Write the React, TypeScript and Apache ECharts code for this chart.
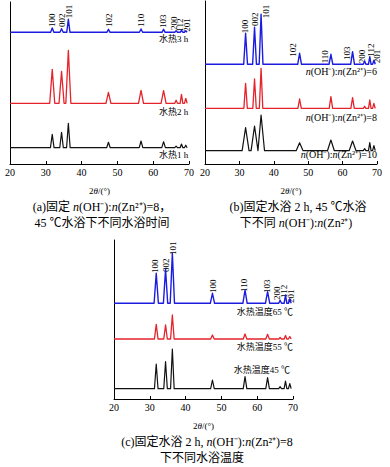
import React, { useEffect, useRef } from "react";
import * as echarts from "echarts";

const SERIF = "'Liberation Serif', 'Noto Sans CJK SC', serif";

// ZnO reflections (2θ, degrees)
const PEAK_2THETA = [31.8, 34.4, 36.3, 47.5, 56.6, 62.9, 66.4, 67.9, 69.1];

// Panel (a): intensities (a.u.) — baseline offsets and peak heights above baseline
const A_BASE = [16.3, 60.7, 131.7]; // 1 h, 2 h, 3 h
const A_1H = [13.4, 15.4, 24.4, 5.4, 6.7, 6.0, 1.5, 3.7, 2.5];
const A_2H = [34, 32, 53, 11, 13, 12.6, 3, 9, 5];
const A_3H = [4.3, 3.6, 13, 3, 3.3, 3, 1.5, 2, 1.5];
const A_CURVE_TEXT = ["水热1 h", "水热2 h", "水热3 h"];
const A_CURVE_Y = [9, 52.3, 125];
const A_HKL = ["100", "002", "101", "102", "110", "103", "200", "112", "201"];
const A_HKL_X = [31.8, 34.5, 36.5, 47.7, 56.6, 62.7, 65.8, 67.6, 69.4];
const A_HKL_Y = [137, 137, 145.7, 137, 137, 136, 134, 132.3, 132.3];

// Panel (b)
const B_BASE = [13.3, 55.7, 99.7]; // ratio 10, 8, 6
const B_10 = [23, 24.7, 35.7, 8, 10.7, 9.7, 2, 8, 5];
const B_8 = [25, 29.3, 40, 9.3, 11.7, 10.7, 2, 8.3, 5];
const B_6 = [31, 37, 50, 11, 10, 12.6, 3, 7.6, 4];
const B_RATIO = ["10", "8", "6"];
const B_CURVE_Y = [10, 46.7, 93];
const B_HKL = ["100", "002", "101", "102", "110", "103", "200", "112", "201"];
const B_HKL_X = [31.6, 34.6, 37.7, 45.5, 54.9, 61.2, 65.6, 68.2, 69.9];
const B_HKL_Y = [130.7, 138, 145.7, 107.3, 100.7, 104, 100.7, 107.3, 100.7];

// Panel (c)
const C_BASE = [10.3, 60, 95.7]; // 45, 55, 65 ℃
const C_45 = [24.7, 27, 39.7, 8.7, 12, 11, 2, 7.7, 5];
const C_55 = [14.7, 14, 24, 4, 5, 4.7, 1.5, 3.5, 2.5];
const C_65 = [30, 34, 50, 10, 13.3, 11.7, 3, 8.3, 4.5];
const C_CURVE_TEXT = ["水热温度45 ℃", "水热温度55 ℃", "水热温度65 ℃"];
const C_CURVE_X = [69.2, 70, 70];
const C_CURVE_Y = [29, 51.7, 87.3];
const C_HKL = ["100", "002", "101", "100", "110", "103", "200", "112", "201"];
const C_HKL_X = [31.5, 34.4, 36.6, 47.6, 56.3, 62.8, 65.6, 67.6, 69.4];
const C_HKL_Y = [126, 127, 144, 106, 107, 106, 99, 101, 96];

const BLACK = "#111111";
const RED = "#e5232b";
const BLUE = "#1c1ce0";

const GRIDS = [
  { left: 10, top: 2, width: 179, height: 162 },
  { left: 205, top: 1, width: 172, height: 163 },
  { left: 114, top: 240, width: 179, height: 159 },
];
const Y_MAX = [162, 163, 159];

function pattern(base: number, heights: number[], w: number) {
  const pts: number[][] = [[20, base]];
  PEAK_2THETA.forEach((p, i) => {
    const hw = i >= 6 ? Math.min(w, 0.38) : w;
    pts.push([p - hw, base], [p, base + heights[i]], [p + hw, base]);
  });
  pts.push([69.65, base]);
  return pts;
}

function line(idx: number, data: number[][], color: string, width: number) {
  return {
    type: "line",
    xAxisIndex: idx,
    yAxisIndex: idx,
    data,
    showSymbol: false,
    symbol: "none",
    lineStyle: { color, width, join: "round" },
    silent: true,
  };
}

const ratioText = (v: string) => `{i|n}(OH⁻):{i|n}(Zn²⁺)=${v}`;

function buildOption() {
  const xAxis = GRIDS.map((_, i) => ({
    type: "value",
    gridIndex: i,
    min: 20,
    max: 70,
    interval: 10,
    axisLine: { show: true, onZero: false, lineStyle: { color: "#000", width: 1 } },
    axisTick: { show: true, inside: true, length: 3, lineStyle: { color: "#000", width: 1 } },
    axisLabel: { color: "#000", fontFamily: SERIF, fontSize: 10, margin: 3 },
    splitLine: { show: false },
    name: "2{i|θ}/(°)",
    nameLocation: "middle",
    nameGap: 22,
    nameTextStyle: {
      color: "#000",
      fontFamily: SERIF,
      fontSize: 9,
      rich: { i: { fontStyle: "italic", fontFamily: SERIF, fontSize: 9, color: "#000" } },
    },
  }));
  const yAxis = GRIDS.map((_, i) => ({
    type: "value",
    gridIndex: i,
    min: 0,
    max: Y_MAX[i],
    axisLine: { show: true, lineStyle: { color: "#000", width: 1 } },
    axisTick: { show: false },
    axisLabel: { show: false },
    splitLine: { show: false },
  }));
  const series = [
    line(0, pattern(A_BASE[0], A_1H, 0.5), BLACK, 1.2),
    line(0, pattern(A_BASE[1], A_2H, 0.7), RED, 1.3),
    line(0, pattern(A_BASE[2], A_3H, 0.45), BLUE, 1.4),
    line(1, pattern(B_BASE[0], B_10, 1.0), BLACK, 1.2),
    line(1, pattern(B_BASE[1], B_8, 0.5), RED, 1.3),
    line(1, pattern(B_BASE[2], B_6, 0.55), BLUE, 1.4),
    line(2, pattern(C_BASE[0], C_45, 0.5), BLACK, 1.2),
    line(2, pattern(C_BASE[1], C_55, 0.5), RED, 1.3),
    line(2, pattern(C_BASE[2], C_65, 0.6), BLUE, 1.4),
  ];
  return {
    animation: false,
    backgroundColor: "#fff",
    grid: GRIDS.map((g) => ({ ...g, containLabel: false })),
    xAxis,
    yAxis,
    series,
  };
}

const FONT9 = `9px ${SERIF}`;
const FONT9I = `italic 9px ${SERIF}`;
const FONT10 = `10px ${SERIF}`;
const FONT10I = `italic 10px ${SERIF}`;
const FONT12 = `12px ${SERIF}`;
const FONT12I = `italic 12px ${SERIF}`;

function textEl(x: number, y: number, text: string, font: string, fontI: string, align: string, rotation = 0) {
  return {
    type: "text",
    x,
    y,
    rotation,
    silent: true,
    style: {
      text,
      font,
      fill: "#000",
      align,
      textAlign: align,
      verticalAlign: "middle",
      textVerticalAlign: "middle",
      rich: { i: { font: fontI, fill: "#000" } },
    },
  };
}

function buildGraphics(chart: any) {
  const els: any[] = [];
  const px = (g: number, x: number, y: number) => chart.convertToPixel({ gridIndex: g }, [x, y]);
  const hkl = (g: number, labels: string[], xs: number[], ys: number[]) => {
    labels.forEach((t, i) => {
      const [x, y] = px(g, xs[i], ys[i]);
      els.push(textEl(x, y, t, FONT9, FONT9I, "left", Math.PI / 2));
    });
  };
  hkl(0, A_HKL, A_HKL_X, A_HKL_Y);
  hkl(1, B_HKL, B_HKL_X, B_HKL_Y);
  hkl(2, C_HKL, C_HKL_X, C_HKL_Y);

  A_CURVE_TEXT.forEach((t, i) => {
    const [x, y] = px(0, 69.8, A_CURVE_Y[i]);
    els.push(textEl(x, y, t, FONT9, FONT9I, "right"));
  });
  B_RATIO.forEach((r, i) => {
    const [x, y] = px(1, 70, B_CURVE_Y[i]);
    els.push(textEl(x, y, ratioText(r), FONT10, FONT10I, "right"));
  });
  C_CURVE_TEXT.forEach((t, i) => {
    const [x, y] = px(2, C_CURVE_X[i], C_CURVE_Y[i]);
    els.push(textEl(x, y, t, FONT9, FONT9I, "right"));
  });

  // captions
  els.push(textEl(102, 207, `(a)固定 ${ratioText("8")}，`, FONT12, FONT12I, "center"));
  els.push(textEl(102, 223, "45 ℃水浴下不同水浴时间", FONT12, FONT12I, "center"));
  els.push(textEl(298, 207, "(b)固定水浴 2 h, 45 ℃水浴", FONT12, FONT12I, "center"));
  els.push(textEl(296, 223, "下不同 {i|n}(OH⁻):{i|n}(Zn²⁺)", FONT12, FONT12I, "center"));
  els.push(textEl(207, 442, `(c)固定水浴 2 h, ${ratioText("8")}`, FONT12, FONT12I, "center"));
  els.push(textEl(202, 458, "下不同水浴温度", FONT12, FONT12I, "center"));
  return els;
}

export default function App() {
  const ref = useRef<HTMLDivElement>(null);
  useEffect(() => {
    const chart = echarts.init(ref.current!, null, { renderer: "svg" });
    chart.setOption(buildOption() as any);
    chart.setOption({ graphic: { elements: buildGraphics(chart) } } as any);
    return () => chart.dispose();
  }, []);
  return (
    <div
      ref={ref}
      style={{ position: "fixed", left: 0, top: 0, width: 390, height: 467, background: "#fff" }}
    />
  );
}
